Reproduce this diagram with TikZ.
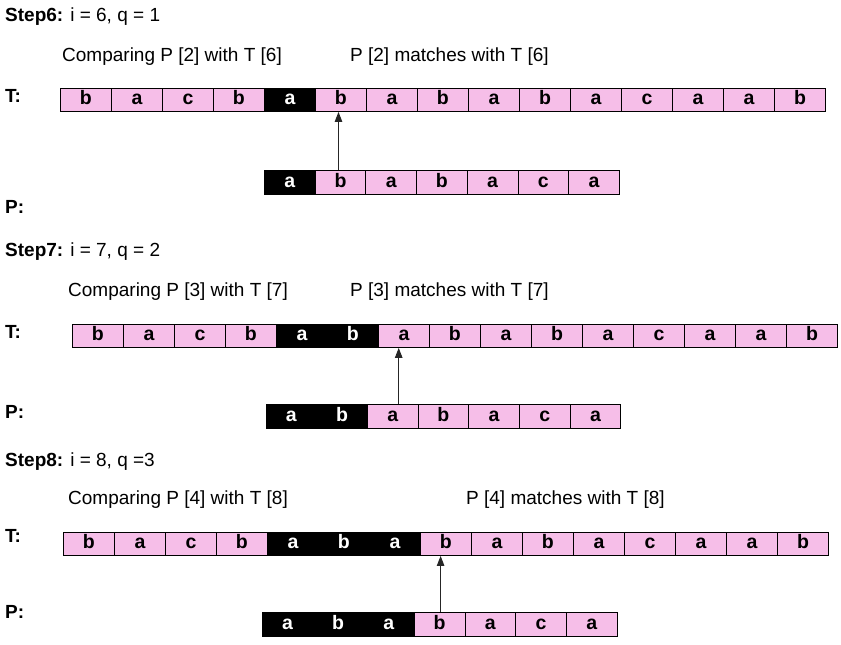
\documentclass[tikz,border=0pt]{standalone}
\usepackage{fontspec}
\setmainfont{Liberation Sans}
\usetikzlibrary{arrows.meta}
\definecolor{cellpink}{RGB}{246,190,232}
\tikzset{
  cell/.style={draw=black, line width=0.9pt, fill=cellpink, minimum height=23pt, inner sep=0pt,
    text height=9.5pt, text depth=0pt, font=\fontsize{19.5}{22}\selectfont\bfseries, anchor=north west},
  dark/.style={fill=black, text=white},
  lbl/.style={anchor=base west, inner sep=0pt, font=\fontsize{19}{22}\selectfont},
  blbl/.style={lbl, font=\fontsize{19}{22}\selectfont\bfseries},
  ptr/.style={draw=black!85, line width=1pt, -{Triangle[length=10pt,width=7.5pt]}}
}
\begin{document}
\begin{tikzpicture}[x=1pt,y=-1pt]
\useasboundingbox (0,0) rectangle (841,645);
% ---------- Step 6 ----------
\node[lbl] (s6) at (5,21) {\textbf{Step6:} i = 6, q = 1};
\node[lbl] (c6) at (62,61) {Comparing P [2] with T [6]};
\node[lbl] (m6) at (350,61) {P [2] matches with T [6]};
\node[blbl] (tl6) at (5,102) {T:};
\node[blbl] (pl6) at (5,213) {P:};
\foreach \c/\s [count=\i from 0] in {b/,a/,c/,b/,a/dark,b/,a/,b/,a/,b/,a/,c/,a/,a/,b/}
  \node[cell,minimum width=51pt,\s] (t1-\i) at (60+51*\i,88) {\c};
\foreach \c/\s [count=\i from 0] in {a/dark,b/,a/,b/,a/,c/,a/}
  \node[cell,minimum width=50.7pt,minimum height=24pt,\s] (p1-\i) at (264+50.7*\i,170) {\c};
\coordinate (a1) at ([xshift=-2pt]p1-1.north);
\draw[ptr] (a1) -- (a1 |- t1-5.south);
% ---------- Step 7 ----------
\node[lbl] (s7) at (5,256) {\textbf{Step7:} i = 7, q = 2};
\node[lbl] (c7) at (68,296) {Comparing P [3] with T [7]};
\node[lbl] (m7) at (350,296) {P [3] matches with T [7]};
\node[blbl] (tl7) at (5,338) {T:};
\node[blbl] (pl7) at (5,418) {P:};
\foreach \c/\s [count=\i from 0] in {b/,a/,c/,b/,a/dark,b/dark,a/,b/,a/,b/,a/,c/,a/,a/,b/}
  \node[cell,minimum width=51pt,\s] (t2-\i) at (72+51*\i,324) {\c};
\foreach \c/\s [count=\i from 0] in {a/dark,b/dark,a/,b/,a/,c/,a/}
  \node[cell,minimum width=50.7pt,minimum height=24pt,\s] (p2-\i) at (265.5+50.7*\i,404) {\c};
\coordinate (a2) at ([xshift=6pt]p2-2.north);
\draw[ptr] (a2) -- (a2 |- t2-6.south);
% ---------- Step 8 ----------
\node[lbl] (s8) at (5,466) {\textbf{Step8:} i = 8, q =3};
\node[lbl] (c8) at (68,504) {Comparing P [4] with T [8]};
\node[lbl] (m8) at (466,504) {P [4] matches with T [8]};
\node[blbl] (tl8) at (5,542) {T:};
\node[blbl] (pl8) at (5,618) {P:};
\foreach \c/\s [count=\i from 0] in {b/,a/,c/,b/,a/dark,b/dark,a/dark,b/,a/,b/,a/,c/,a/,a/,b/}
  \node[cell,minimum width=51pt,\s] (t3-\i) at (63+51*\i,532) {\c};
\foreach \c/\s [count=\i from 0] in {a/dark,b/dark,a/dark,b/,a/,c/,a/}
  \node[cell,minimum width=50.7pt,minimum height=24pt,\s] (p3-\i) at (261.7+50.7*\i,612) {\c};
\coordinate (a3) at ([xshift=1pt]p3-3.north);
\draw[ptr] (a3) -- (a3 |- t3-7.south);
\end{tikzpicture}
\end{document}
